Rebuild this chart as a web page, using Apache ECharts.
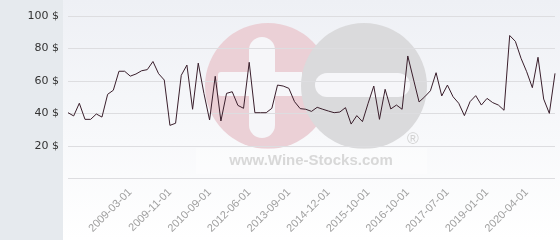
<!DOCTYPE html>
<html>
<head>
<meta charset="utf-8">
<script src="https://cdn.jsdelivr.net/npm/echarts@6/dist/echarts.min.js"></script>
<style>html,body{margin:0;padding:0;background:#fff}#c{width:560px;height:240px}</style>
</head>
<body>
<div id="c"></div>
<script>
// Price series (USD), evenly spaced observations
const prices = [
  40.5, 38.5, 46.3, 36.4, 36.4, 39.7, 37.8, 51.8, 54.3, 66,
  66, 63, 64.3, 66.3, 67, 72, 64.5, 60.6, 32.7, 34,
  63.5, 69.8, 42.6, 71, 52.4, 36, 62.9, 35.4, 52.4, 53.4,
  45, 43.2, 71.5, 40.5, 40.5, 40.5, 43.2, 57.5, 56.9, 55.5,
  47.3, 43, 42.6, 41.3, 43.8, 42.6, 41.5, 40.5, 40.9, 43.6,
  33.5, 38.7, 35, 46.3, 56.9, 36.4, 54.9, 42.8, 45.2, 42.6,
  75.4, 61.2, 47.1, 50.3, 54, 65.1, 50.8, 57.5, 50.3, 46.3,
  38.7, 47.3, 51, 45.2, 49.3, 46.7, 45.2, 42, 88, 84.4,
  74, 65.7, 55.9, 74.6, 48.9, 40.1, 64.7
];
// Dates shown on the x axis and the observation they belong to
const dateLabels = ['2009-03-01','2009-11-01','2010-09-01','2012-06-01','2013-09-01','2014-12-01','2015-10-01','2016-10-01','2017-07-01','2019-01-01','2020-04-01'];
const labelIndices = [11, 18, 25, 32, 39, 46, 53, 60, 67, 74, 81];
const yTicks = [0, 20, 40, 60, 80, 100];

const categories = prices.map((_, i) => {
  const k = labelIndices.indexOf(i);
  return k >= 0 ? dateLabels[k] : ('#' + i);
});

const chart = echarts.init(document.getElementById('c'), null, {renderer: 'canvas'});
chart.setOption({
  animation: false,
  backgroundColor: '#ffffff',
  graphic: [
    {type: 'rect', z: -10, shape: {x: 0, y: 0, width: 63, height: 240}, style: {fill: '#e6eaee'}},
    {type: 'rect', z: -10, shape: {x: 63, y: 0, width: 497, height: 240},
      style: {fill: new echarts.graphic.LinearGradient(0, 0, 0, 1, [{offset: 0, color: '#eef0f5'}, {offset: 1, color: '#ffffff'}])}},
    {type: 'circle', z: -9, shape: {cx: 268, cy: 86, r: 63}, style: {fill: '#ebd0d6'}},
    {type: 'rect', z: -8, shape: {x: 218, y: 72, width: 84, height: 24, r: [3, 0, 0, 3]}, style: {fill: '#f6f6f9'}},
    {type: 'rect', z: -8, shape: {x: 249, y: 37, width: 26, height: 101, r: 13}, style: {fill: '#f6f6f9'}},
    {type: 'circle', z: -7, shape: {cx: 364, cy: 86, r: 63}, style: {fill: '#dadadc'}},
    {type: 'rect', z: -6, shape: {x: 315, y: 73, width: 95, height: 24, r: 12}, style: {fill: '#f6f6f9'}},
    {type: 'rect', z: -6, shape: {x: 196, y: 148, width: 231, height: 26}, style: {fill: 'rgba(255,255,255,0.35)'}},
    {type: 'text', z: -5, style: {x: 311, y: 161, text: 'www.Wine-Stocks.com', fill: '#d8d8d8', font: 'bold 15px "Liberation Sans", Arial, sans-serif', align: 'center', verticalAlign: 'middle'}},
    {type: 'text', z: -5, style: {x: 413, y: 140, text: '®', fill: '#d2d2d2', font: '16px "Liberation Sans", Arial, sans-serif', align: 'center', verticalAlign: 'middle'}}
  ],
  grid: {left: 68, right: 5, top: 16, bottom: 61.5, outerBoundsMode: 'none'},
  xAxis: {
    type: 'category',
    data: categories,
    boundaryGap: false,
    axisLine: {show: false},
    axisTick: {show: false},
    splitLine: {show: false},
    axisLabel: {
      interval: (i) => labelIndices.includes(i),
      rotate: 45,
      margin: 12,
      color: '#a0a0a0',
      fontSize: 11,
      fontFamily: '"Liberation Sans", Arial, sans-serif'
    }
  },
  yAxis: {
    type: 'value',
    min: yTicks[0],
    max: yTicks[yTicks.length - 1],
    interval: 20,
    axisLine: {show: false},
    axisTick: {show: false},
    splitLine: {show: true, lineStyle: {color: '#dddde0', width: 1}},
    axisLabel: {
      margin: 9,
      color: '#333',
      fontSize: 11,
      fontFamily: '"DejaVu Sans", sans-serif',
      formatter: (v) => v === 0 ? '' : v + ' $'
    }
  },
  series: [{
    type: 'line',
    data: prices,
    symbol: 'none',
    lineStyle: {color: '#3a1f2c', width: 1},
    z: 5
  }]
});
</script>
</body>
</html>
